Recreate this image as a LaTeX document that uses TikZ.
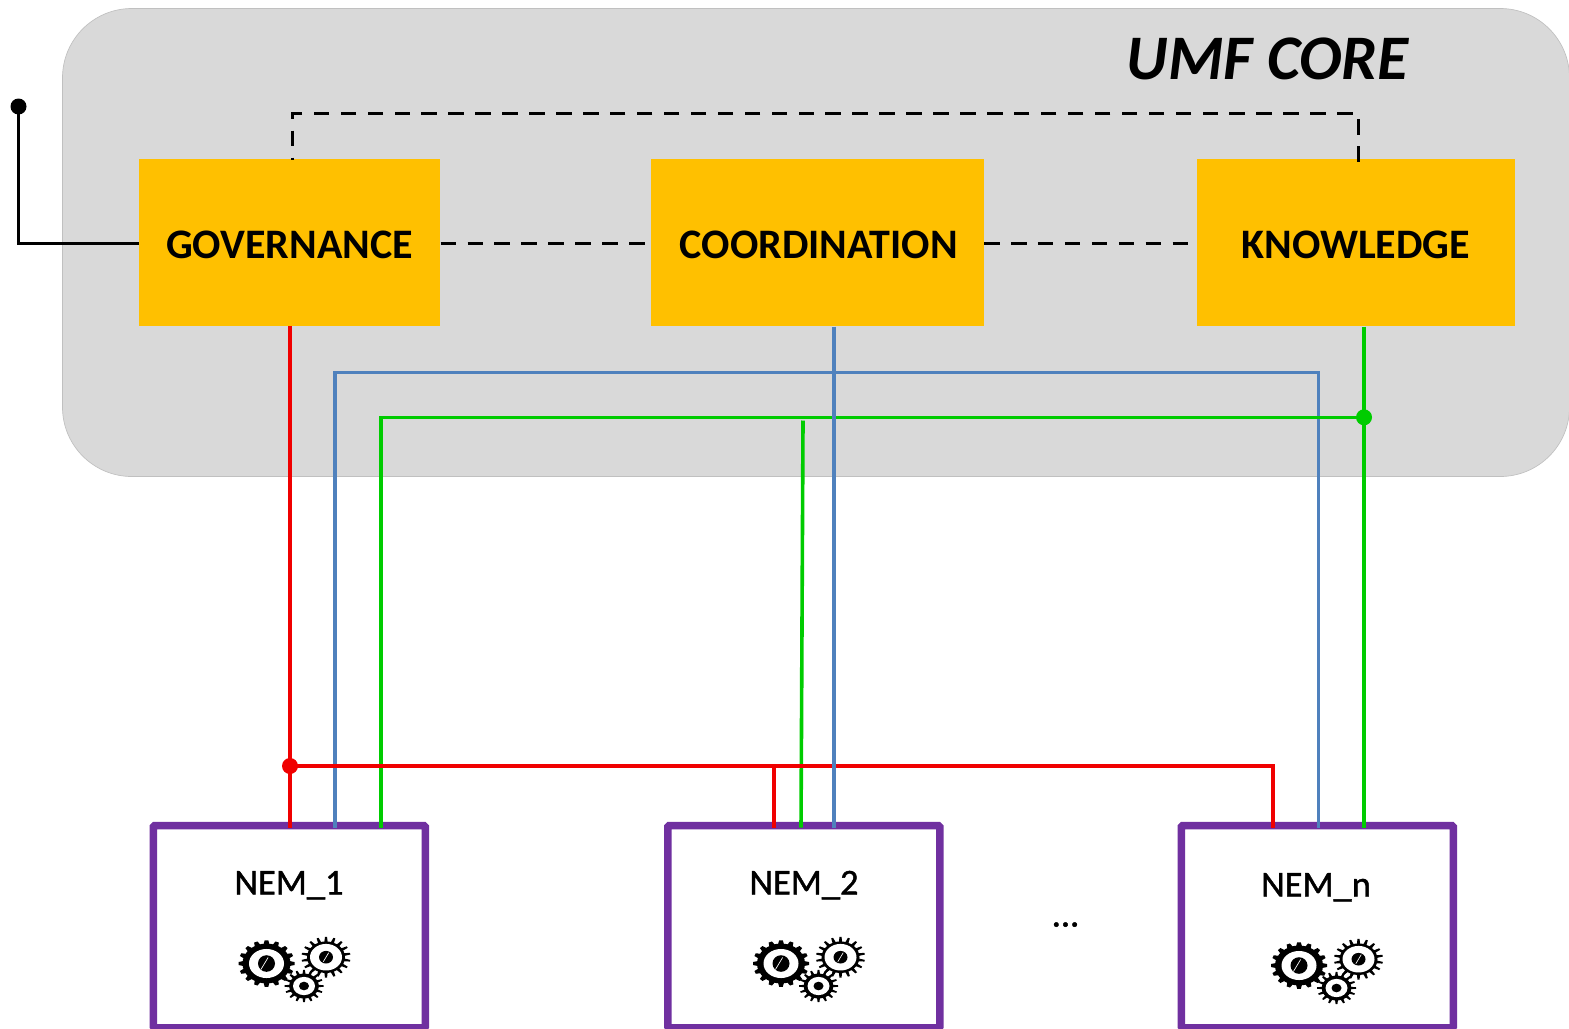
\documentclass[tikz,border=0pt]{standalone}
\usepackage{fontspec}
\setmainfont{Carlito}
\newfontfamily\nemfont[FakeBold=1.2]{Carlito}
\usetikzlibrary{calc}
\definecolor{coregray}{HTML}{D9D9D9}
\definecolor{coreedge}{HTML}{C0C0C0}
\definecolor{amber}{HTML}{FFC000}
\definecolor{nempurple}{HTML}{7030A0}
\definecolor{wirered}{HTML}{F00000}
\definecolor{wireblue}{HTML}{4F81BD}
\definecolor{wiregreen}{HTML}{00CC00}
\tikzset{
  px/.style={x=0.75pt,y=-0.75pt},
  corebox/.style={fill=coregray,draw=coreedge,line width=0.5pt,rounded corners=52pt},
  funcbox/.style={fill=amber,draw=none,inner sep=0pt,minimum height=124.8pt,text height=23.5pt,text depth=0pt,font=\bfseries\fontsize{31.5}{36}\selectfont},
  nembox/.style={draw=nempurple,line width=5.6pt,fill=white,inner sep=0pt,minimum width=204pt,minimum height=151.7pt,rounded corners=1pt},
  nemlabel/.style={inner sep=0pt,anchor=base,font=\nemfont\fontsize{27.3}{30}\selectfont},
  dashwire/.style={draw=black,line width=2.7pt,dash pattern=on 11.6pt off 8.6pt},
  solidwire/.style={draw=black,line width=2.7pt},
  redwire/.style={draw=wirered,line width=2.7pt},
  bluewire/.style={draw=wireblue,line width=2.7pt},
  greenwire/.style={draw=wiregreen,line width=2.7pt},
  junction/.style={circle,inner sep=0pt,minimum size=12pt,draw=none},
}
% one gear: x, y, tip radius, ring radius, white radius, hub x radius, hub y radius, teeth, tooth half width
\newcommand{\onegear}[9]{%
  \begin{scope}[shift={(#1,#2)},yscale=0.83]
    \pgfmathsetmacro{\gstep}{360/#8}
    \foreach \k in {1,...,#8}{
      \fill[black,rotate=\k*\gstep] (-#9,-#4+1) -- (-0.6*#9,-#3) -- (0.6*#9,-#3) -- (#9,-#4+1) -- cycle;
    }
    \fill[black] (0,0) circle[radius=#4];
    \fill[white] (0,0) circle[radius=#5];
    \fill[black] (0,0) circle[x radius=#6,y radius=#7];
  \end{scope}
}
\newcommand{\gearslash}[3]{%
  \draw[white,line width=0.5pt] ($(#1,#2)+(-0.45*#3,0.75*#3)$) -- ($(#1,#2)+(0.45*#3,-0.75*#3)$);
}
\newcommand{\gearcluster}[2]{%
  \begin{scope}[shift={(#1,#2)}]
    \onegear{59.5}{-6.3}{24.5}{19}{16}{7}{7.6}{18}{1.7}
    \onegear{0}{0}{28}{24}{17.5}{8.5}{10}{16}{3}
    \onegear{37.5}{22.5}{19.5}{15}{11}{5}{5.2}{16}{1.5}
    \gearslash{-2}{0}{8}
    \gearslash{59.5}{-6.3}{6}
  \end{scope}
}
\begin{document}
\begin{tikzpicture}[px]
\useasboundingbox (-0.5,-0.5) rectangle (1568.5,1027.5);
% core panel
\draw[corebox] (62,8) rectangle (1569,476);
\node[inner sep=0pt,font=\bfseries\itshape\fontsize{47.6}{54}\selectfont] (title) at (1267,58) {UMF CORE};
% NEM boxes
\node[nembox] (nem1) at (288.8,926.2) {};
\node[nembox] (nem2) at (803.3,926.2) {};
\node[nembox] (nemn) at (1316.8,926.2) {};
\node[nemlabel] (nem1t) at (288.5,894) {NEM\_1};
\node[nemlabel] (nem2t) at (803.5,894) {NEM\_2};
\node[nemlabel] (nemnt) at (1315.5,896) {NEM\_n};
\node[nemlabel] (dots) at (1065,926) {...};
\gearcluster{266}{963}
\gearcluster{780.5}{963}
\gearcluster{1298.5}{965}
% amber function boxes
\node[funcbox,minimum width=225.9pt] (gov) at (289.2,242) {GOVERNANCE};
\node[funcbox,minimum width=249.5pt] (coord) at (817,242) {\hspace*{2pt}COORDINATION};
\node[funcbox,minimum width=238.7pt] (know) at (1355.3,242) {KNOWLEDGE};
% free ends and junctions
\coordinate (ext) at (18,106);
\node[junction,fill=black] (extdot) at (ext) {};
\coordinate (govin) at ($(gov.west)+(0,1)$);
\coordinate (gove) at ($(gov.east)+(0,1)$);
\coordinate (coordw) at ($(coord.west)+(0,1)$);
\coordinate (coorde) at ($(coord.east)+(0,1)$);
\coordinate (knoww) at ($(know.west)+(0,1)$);
\coordinate (govtop) at (292,159);
\coordinate (knowtop) at (1358,161);
\coordinate (dashL) at (292,113);
\coordinate (dashR) at (1358,113);
\coordinate (redbus) at (289.5,765.5);
\coordinate (greenbus) at (1363.5,416.8);
% black links
\draw[solidwire] (extdot.center) |- (govin);
\draw[dashwire] (knowtop) -- (dashR) -- (dashL) -- (govtop);
\draw[dashwire] (gove) -- (coordw);
\draw[dashwire] (coorde) -- (knoww);
% blue frame
\draw[bluewire] (334.5,827) -- (334.5,371.8) -- (1317.8,371.8) -- (1317.8,827);
% green
\draw[greenwire] (1363.5,326) -- (1363.5,827);
\draw[greenwire] (greenbus) -- (380.5,416.8) -- (380.5,827);
\draw[greenwire] (802.5,420) -- (800.5,827);
\node[junction,fill=wiregreen] (gdot) at (greenbus) {};
% red
\draw[redwire] (redbus |- gov.south) -- (289.5,827);
\draw[redwire] (redbus) -- (1272.5,765.5) -- (1272.5,827);
\draw[redwire] (773.5,765.5) -- (773.5,827);
\node[junction,fill=wirered] (rdot) at (redbus) {};
% blue on top
\draw[bluewire] (833.5,326) -- (833.5,827);
\end{tikzpicture}
\end{document}
